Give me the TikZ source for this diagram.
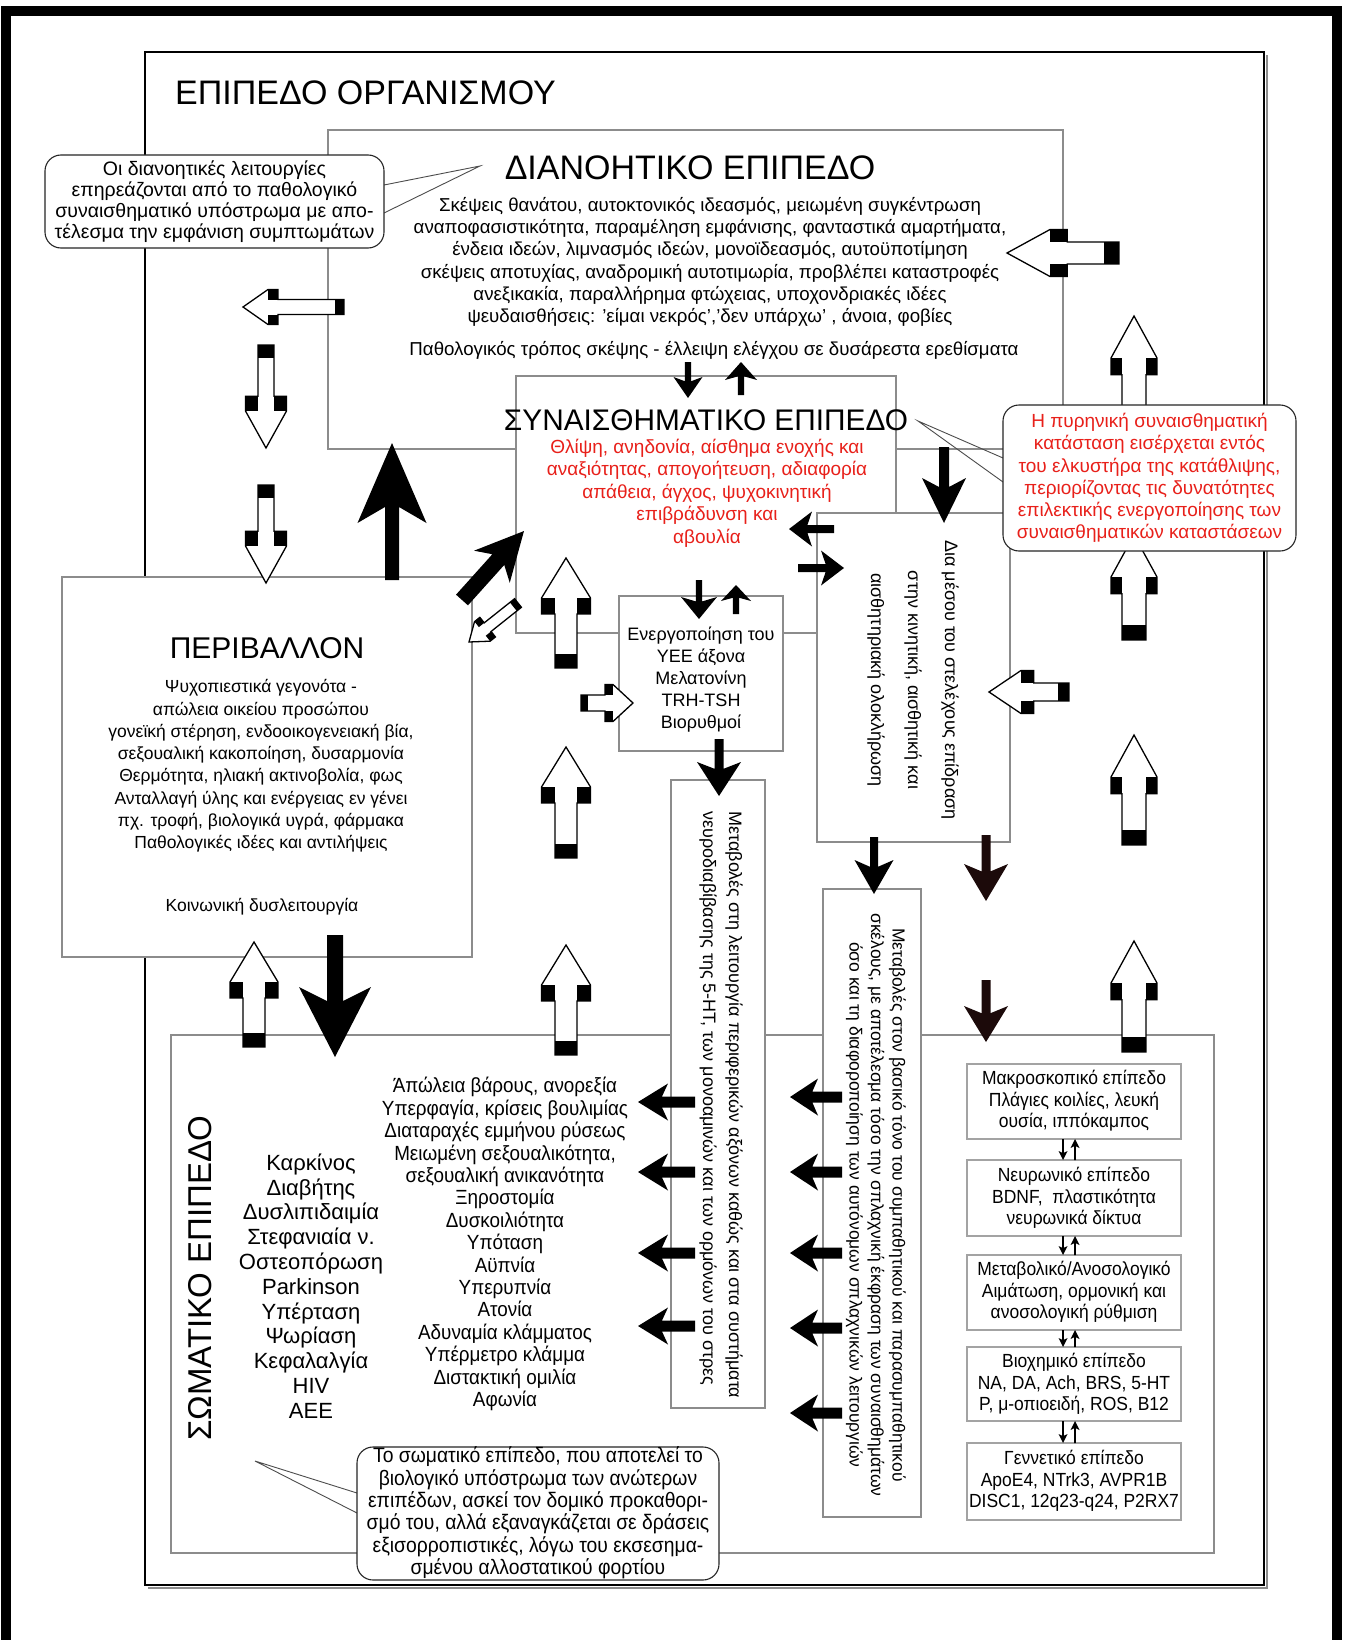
\documentclass[tikz,border=0pt]{standalone}
\usepackage{fontspec}
\setmainfont{Liberation Sans}
\definecolor{boxgray}{RGB}{140,140,140}
\definecolor{redtext}{RGB}{232,32,26}
\definecolor{darkarrow}{RGB}{28,10,10}
\newcommand{\fs}[2]{\fontsize{#1}{#2}\selectfont}
\newcommand{\sq}{\char39{}}
% solid arrow with a notched head: tail x, tail y, tip x, tip y, head half-width, head length, shaft half-width, colour
\newcommand{\sarrow}[8]{%
  \pgfmathsetmacro\arang{atan2((#2)-(#4),(#3)-(#1))}%
  \pgfmathsetmacro\arlen{veclen((#3)-(#1),(#4)-(#2))}%
  \pgfmathsetmacro\arb{\arlen-(#6)}%
  \pgfmathsetmacro\arn{\arlen-0.8*(#6)}%
  \fill[#8,shift={(#1,#2)},rotate=\arang] (0,-#7) -- (\arn,-#7) -- (\arb,-#5) -- (\arlen,0) -- (\arb,#5) -- (\arn,#7) -- (0,#7) -- cycle;%
}
% hollow block arrow with black tail block and shoulders: tail x, tail y, tip x, tip y, head half-width, head length, shaft half-width
\newcommand{\harrow}[7]{%
  \pgfmathsetmacro\arang{atan2((#2)-(#4),(#3)-(#1))}%
  \pgfmathsetmacro\arlen{veclen((#3)-(#1),(#4)-(#2))}%
  \pgfmathsetmacro\arb{\arlen-(#6)}%
  \pgfmathsetmacro\ars{\arb-0.4*(#6)}%
  \pgfmathsetmacro\art{0.35*(#6)}%
  \begin{scope}[shift={(#1,#2)},rotate=\arang]
    \draw[line width=1.3,fill=white] (0,-#7) -- (\ars,-#7) -- (\ars,-#5) -- (\arb,-#5) -- (\arlen,0) -- (\arb,#5) -- (\ars,#5) -- (\ars,#7) -- (0,#7) -- cycle;
    \fill (0,-#7) rectangle (\art,#7);
    \fill (\ars,-#5) rectangle (\arb,-#7);
    \fill (\ars,#7) rectangle (\arb,#5);
  \end{scope}%
}
\begin{document}
\begin{tikzpicture}[x=1pt,y=-1pt,
  gbox/.style={draw=boxgray,line width=1.4,fill=white},
  sbox/.style={draw=boxgray!80,line width=1.2,fill=white},
  callout/.style={draw=black!85,line width=1.1,fill=white,rounded corners=16},
  wedge/.style={draw=black!70,line width=0.9},
  txt/.style={inner sep=0,align=center},
  narrow/.style={xscale=0.92,transform shape}]
\useasboundingbox (0,0) rectangle (1347,1640);
\fill[white] (0,0) rectangle (1347,1640);
% heavy outer frame
\begin{scope}
  \clip (0,0) rectangle (1347,1640);
  \draw[line width=10] (5.5,1700) -- (5.5,11) -- (1337,11) -- (1337,1700);
\end{scope}

% organism level
\draw[black!45,line width=2] (148,1588) -- (1267,1588) -- (1267,55);
\draw[line width=2.5] (145,52) rectangle (1264,1585);
\node[anchor=base west,inner sep=0,font=\fs{34}{40}] (orgtitle) at (175,105) {ΕΠΙΠΕΔΟ ΟΡΓΑΝΙΣΜΟΥ};

% cognitive level
\draw[gbox] (328,130) rectangle (1063,449);
\node[txt,font=\fs{34}{38}] (diantitle) at (690,168) {ΔΙΑΝΟΗΤΙΚΟ ΕΠΙΠΕΔΟ};
\node[txt,font=\fs{18.7}{22.3}] (dianbody) at (710,262) {Σκέψεις θανάτου, αυτοκτονικός ιδεασμός, μειωμένη συγκέντρωση\\
αναποφασιστικότητα, παραμέληση εμφάνισης, φανταστικά αμαρτήματα,\\
ένδεια ιδεών, λιμνασμός ιδεών, μονοϊδεασμός, αυτοϋποτίμηση\\
σκέψεις αποτυχίας, αναδρομική αυτοτιμωρία, προβλέπει καταστροφές\\
ανεξικακία, παραλλήρημα φτώχειας, υποχονδριακές ιδέες\\
ψευδαισθήσεις: \sq είμαι νεκρός\sq,\sq δεν υπάρχω\sq\ , άνοια, φοβίες};
\node[txt,font=\fs{18.7}{22}] (dianpath) at (714,350) {Παθολογικός τρόπος σκέψης - έλλειψη ελέγχου σε δυσάρεστα ερεθίσματα};

% emotional level
\draw[gbox] (516,376) rectangle (896,633);
\node[txt,font=\fs{29.8}{34}] (syntitle) at (706,420) {ΣΥΝΑΙΣΘΗΜΑΤΙΚΟ ΕΠΙΠΕΔΟ};
\node[txt,font=\fs{19}{22.5},text=redtext] (synbody) at (707,493) {Θλίψη, ανηδονία, αίσθημα ενοχής και\\
αναξιότητας, απογοήτευση, αδιαφορία\\
απάθεια, άγχος, ψυχοκινητική\\
επιβράδυνση και\\
αβουλία};

% environment
\draw[gbox] (62,577) rectangle (472,957);
\node[txt,font=\fs{30}{34}] (envtitle) at (267,648) {ΠΕΡΙΒΑΛΛΟΝ};
\node[txt,font=\fs{17.5}{22.3}] (envbody) at (261,766) {Ψυχοπιεστικά γεγονότα -\\
απώλεια οικείου προσώπου\\
γονεϊκή στέρηση, ενδοοικογενειακή βία,\\
σεξουαλική κακοποίηση, δυσαρμονία\\
Θερμότητα, ηλιακή ακτινοβολία, φως\\
Ανταλλαγή ύλης και ενέργειας εν γένει\\
πχ. τροφή, βιολογικά υγρά, φάρμακα\\
Παθολογικές ιδέες και αντιλήψεις};
\node[txt,font=\fs{17.5}{22}] (envsocial) at (262,907) {Κοινωνική δυσλειτουργία};

% HPA axis box
\draw[gbox] (619,596) rectangle (783,751);
\node[txt,font=\fs{18}{22}] (hpa) at (701,680) {Ενεργοποίηση του\\ΥΕΕ άξονα\\Μελατονίνη\\TRH-TSH\\Βιορυθμοί};

% brain-stem box
\draw[gbox] (817,513) rectangle (1010,842);
\node[txt,font=\fs{18}{37},rotate=-90] (stem) at (913,680) {Δια μέσου του στελέχους επίδραση\\στην κινητική, αισθητική και\\αισθητηριακή ολοκλήρωση};

% somatic level
\draw[gbox] (171,1035) rectangle (1214,1553);
\node[txt,font=\fs{33}{36},rotate=90] (somtitle) at (200,1278) {ΣΩΜΑΤΙΚΟ ΕΠΙΠΕΔΟ};
\node[txt,font=\fs{22}{24.8}] (disease) at (311,1286) {Καρκίνος\\Διαβήτης\\Δυσλιπιδαιμία\\Στεφανιαία ν.\\Οστεοπόρωση\\Parkinson\\Υπέρταση\\Ψωρίαση\\Κεφαλαλγία\\HIV\\ΑΕΕ};
\begin{scope}[shift={(505,1244)}]
\node[txt,narrow,font=\fs{20.5}{22.4}] (sympt) at (0,0) {Άπώλεια βάρους, ανορεξία\\Υπερφαγία, κρίσεις βουλιμίας\\Διαταραχές εμμήνου ρύσεως\\Μειωμένη σεξουαλικότητα,\\σεξουαλική ανικανότητα\\Ξηροστομία\\Δυσκοιλιότητα\\Υπόταση\\Αϋπνία\\Υπερυπνία\\Ατονία\\Αδυναμία κλάμματος\\Υπέρμετρο κλάμμα\\Διστακτική ομιλία\\Αφωνία};
\end{scope}

% peripheral axes and autonomic tone
\draw[gbox] (671,780) rectangle (765,1408);
\node[txt,align=left,font=\fs{18}{26},rotate=-90] (ht5) at (721,1105) {Μεταβολές στη λειτουργία περιφερικών αξόνων καθώς και στα συστήματα\\νευροδιαβίβασης της 5-HT, των μονοαμινών και των ορμόνων του στρες};
\draw[gbox] (823,889) rectangle (921,1517);
\node[txt,font=\fs{17.5}{21.5},rotate=-90] (ans) at (876,1205) {Μεταβολές στον βασικό τόνο του συμπαθητικού και παρασυμπαθητικού\\σκέλους, με αποτέλεσμα τόσο την σπλαχνική έκφραση των συναισθημάτων\\όσο και τη διαφοροποίηση των αυτόνομων σπλαχνικών λειτουργιών};

% stacked biological levels
\draw[sbox] (967,1064) rectangle (1181,1139);
\draw[sbox] (967,1160) rectangle (1181,1236);
\draw[sbox] (967,1255) rectangle (1181,1330);
\draw[sbox] (967,1347) rectangle (1181,1421);
\draw[sbox] (967,1443) rectangle (1181,1520);
\begin{scope}[shift={(1074,1101)}]
\node[txt,narrow,font=\fs{19}{21.5}] (macro) at (0,0) {Μακροσκοπικό επίπεδο\\Πλάγιες κοιλίες, λευκή\\ουσία, ιππόκαμπος};
\end{scope}
\begin{scope}[shift={(1074,1198)}]
\node[txt,narrow,font=\fs{19}{21.5}] (neur) at (0,0) {Νευρωνικό επίπεδο\\BDNF,\ \ πλαστικότητα\\νευρωνικά δίκτυα};
\end{scope}
\begin{scope}[shift={(1074,1292)}]
\node[txt,narrow,font=\fs{19}{21.5}] (metab) at (0,0) {Μεταβολικό/Ανοσολογικό\\Αιμάτωση, ορμονική και\\ανοσολογική ρύθμιση};
\end{scope}
\begin{scope}[shift={(1074,1384)}]
\node[txt,narrow,font=\fs{19}{21.5}] (bioch) at (0,0) {Βιοχημικό επίπεδο\\NA, DA, Ach, BRS, 5-HT\\P, μ-οπιοειδή, ROS, B12};
\end{scope}
\begin{scope}[shift={(1074,1481)}]
\node[txt,narrow,font=\fs{19}{21.5}] (genet) at (0,0) {Γεννετικό επίπεδο\\ApoE4, NTrk3, AVPR1B\\DISC1, 12q23-q24, P2RX7};
\end{scope}
\foreach \a/\b in {1139/1160,1236/1255,1330/1347,1421/1443}{
  \sarrow{1063}{\a}{1063}{\b}{4.5}{9}{0.8}{black}
  \sarrow{1075}{\b}{1075}{\a}{4.5}{9}{0.8}{black}
}

% hollow block arrows
\harrow{344}{307}{243}{307}{17.5}{25}{7.5}
\harrow{266}{345}{266}{448}{20.5}{37}{8}
\harrow{266}{485}{266}{583}{20.5}{37}{8}
\harrow{566}{668}{566}{558}{24.5}{40}{11}
\harrow{566}{858}{566}{747}{24.5}{40}{11}
\harrow{566}{1055}{566}{945}{24.5}{40}{11}
\harrow{254}{1047}{254}{942}{24}{40}{11}
\harrow{581}{703}{633}{703}{18.5}{20}{8}
\harrow{518}{603}{469}{642}{12.5}{17}{5.5}
\harrow{1134}{422}{1134}{316}{23}{42}{12}
\harrow{1134}{640}{1134}{535}{23}{42}{12}
\harrow{1069}{692}{989}{692}{21.5}{32}{9}
\harrow{1134}{845}{1134}{735}{23}{42}{12}
\harrow{1134}{1052}{1134}{941}{23}{42}{12}
\harrow{1119}{253}{1007}{253}{23.5}{43}{11}

% solid arrows
\sarrow{392}{580}{392}{443}{34.5}{80}{7}{black}
\sarrow{462}{600}{524}{531}{24}{48}{8}{black}
\sarrow{335}{935}{335}{1057}{36}{70}{8}{black}
\sarrow{719}{739}{719}{796}{22}{34}{4.5}{black}
\sarrow{874}{837}{874}{894}{19.5}{34}{4}{black}
\sarrow{986}{835}{986}{901}{22}{37}{4.5}{darkarrow}
\sarrow{986}{980}{986}{1042}{22}{36}{4.5}{darkarrow}
\sarrow{688}{362}{688}{398}{14.5}{21}{3.2}{black}
\sarrow{741}{395}{741}{362}{16}{18}{3.2}{black}
\sarrow{944}{447}{944}{523}{22}{45}{5}{black}
\sarrow{834}{529}{789}{529}{17.5}{23}{4}{black}
\sarrow{798}{568}{844}{568}{17.5}{23}{4}{black}
\sarrow{699}{580}{699}{619}{18}{22}{3.2}{black}
\sarrow{736}{614}{736}{585}{15}{16}{3.2}{black}
\foreach \y in {1102,1172,1253,1326}{\sarrow{695}{\y}{638}{\y}{18.5}{30}{5.5}{black}}
\foreach \y in {1097,1172,1253,1328,1413}{\sarrow{842}{\y}{790}{\y}{18.5}{28}{5.5}{black}}

% callouts
\draw[wedge] (384,185) -- (480,166) -- (384,213);
\draw[callout] (45,155) rectangle (384,248);
\node[txt,font=\fs{19.5}{21}] (notecog) at (214.5,201.5) {Οι διανοητικές λειτουργίες\\επηρεάζονται από το παθολογικό\\συναισθηματικό υπόστρωμα με απο-\\τέλεσμα την εμφάνιση συμπτωμάτων};

\draw[wedge] (1003,458) -- (918,421) -- (1003,482);
\draw[callout] (1003,405) rectangle (1296,551);
\node[txt,font=\fs{19}{22.3},text=redtext] (noteemo) at (1149.5,478) {Η πυρηνική συναισθηματική\\κατάσταση εισέρχεται εντός\\του ελκυστήρα της κατάθλιψης,\\περιορίζοντας τις δυνατότητες\\επιλεκτικής ενεργοποίησης των\\συναισθηματικών καταστάσεων};

\draw[wedge] (357,1493) -- (255,1461) -- (357,1513);
\draw[callout] (357,1447) rectangle (719,1580);
\begin{scope}[shift={(538,1513)}]
\node[txt,narrow,font=\fs{21}{22.4}] (notesom) at (0,0) {Το σωματικό επίπεδο, που αποτελεί το\\βιολογικό υπόστρωμα των ανώτερων\\επιπέδων, ασκεί τον δομικό προκαθορι-\\σμό του, αλλά εξαναγκάζεται σε δράσεις\\εξισορροπιστικές, λόγω του εκσεσημα-\\σμένου αλλοστατικού φορτίου};
\end{scope}
\end{tikzpicture}
\end{document}
